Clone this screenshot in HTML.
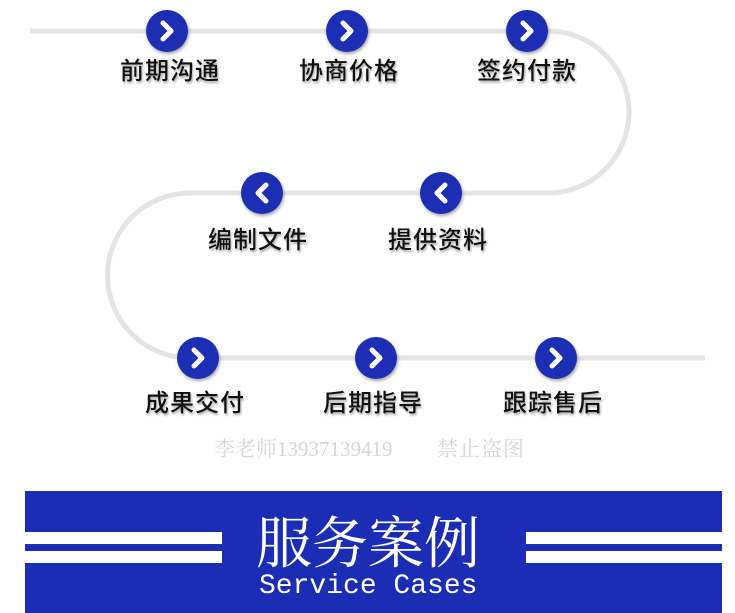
<!DOCTYPE html>
<html><head><meta charset="utf-8"><style>
body{margin:0;width:735px;height:613px;background:#fff;position:relative;overflow:hidden;font-family:"Liberation Sans","Noto Sans CJK SC",sans-serif}
.l{position:absolute;font-size:24px;font-weight:500;color:#111;text-shadow:1px 2px 2px rgba(0,0,0,.35);transform:translateX(-50%);white-space:nowrap;line-height:1;letter-spacing:1px}
</style></head><body>
<svg width="735" height="613" style="position:absolute;left:0;top:0">
<defs><filter id="s" x="-30%" y="-30%" width="160%" height="160%"><feDropShadow dx="1" dy="2" stdDeviation="1.5" flood-color="#000" flood-opacity=".35"/></filter></defs>
<path d="M30 31 H548 A81 81 0 0 1 548 193 H190 A82.5 82.5 0 0 0 190 358 H705" fill="none" stroke="#e4e4e4" stroke-width="5"/>
<g fill="#1a2db4" filter="url(#s)">
<circle cx="167" cy="31" r="21"/><circle cx="347" cy="31" r="21"/><circle cx="527" cy="31" r="21"/>
<circle cx="262" cy="193" r="21"/><circle cx="441" cy="193" r="21"/>
<circle cx="198" cy="358" r="21"/><circle cx="376" cy="358" r="21"/><circle cx="556" cy="358" r="21"/>
</g>
<g fill="none" stroke="#fff" stroke-width="5" stroke-linecap="round" stroke-linejoin="round">
<path d="M163 23 L171 31 L163 39"/><path d="M343 23 L351 31 L343 39"/><path d="M523 23 L531 31 L523 39"/>
<path d="M266 185 L258 193 L266 201"/><path d="M445 185 L437 193 L445 201"/>
<path d="M194 350 L202 358 L194 366"/><path d="M372 350 L380 358 L372 366"/><path d="M552 350 L560 358 L552 366"/>
</g>
<rect x="25" y="491" width="697" height="122" fill="#1a2db4"/>
<g fill="#fff"><rect x="25" y="532" width="197" height="12"/><rect x="25" y="551" width="197" height="12"/>
<rect x="526" y="532" width="196" height="12"/><rect x="526" y="551" width="196" height="12"/></g>
</svg>
<div class="l" style="left:170px;top:60px">前期沟通</div>
<div class="l" style="left:349px;top:60px">协商价格</div>
<div class="l" style="left:527px;top:60px">签约付款</div>
<div class="l" style="left:258px;top:229px">编制文件</div>
<div class="l" style="left:438px;top:229px">提供资料</div>
<div class="l" style="left:195px;top:392px">成果交付</div>
<div class="l" style="left:373px;top:392px">后期指导</div>
<div class="l" style="left:553px;top:392px">跟踪售后</div>
<div style="position:absolute;left:214px;top:433px;font-size:21px;color:#d6d6d6;font-family:'Liberation Serif','Noto Serif CJK SC',serif;white-space:nowrap">李老师13937139419</div>
<div style="position:absolute;left:437px;top:433px;font-size:21px;color:#d6d6d6;font-family:'Liberation Serif','Noto Serif CJK SC',serif;white-space:nowrap;letter-spacing:1px">禁止盗图</div>
<div style="position:absolute;left:256px;top:512px;font-size:56px;color:#fff;font-family:'Noto Serif CJK SC',serif;line-height:1">服务案例</div>
<div style="position:absolute;left:259px;top:573px;font-size:28px;color:#fff;font-family:'Liberation Mono',monospace;line-height:1">Service Cases</div>
</body></html>
